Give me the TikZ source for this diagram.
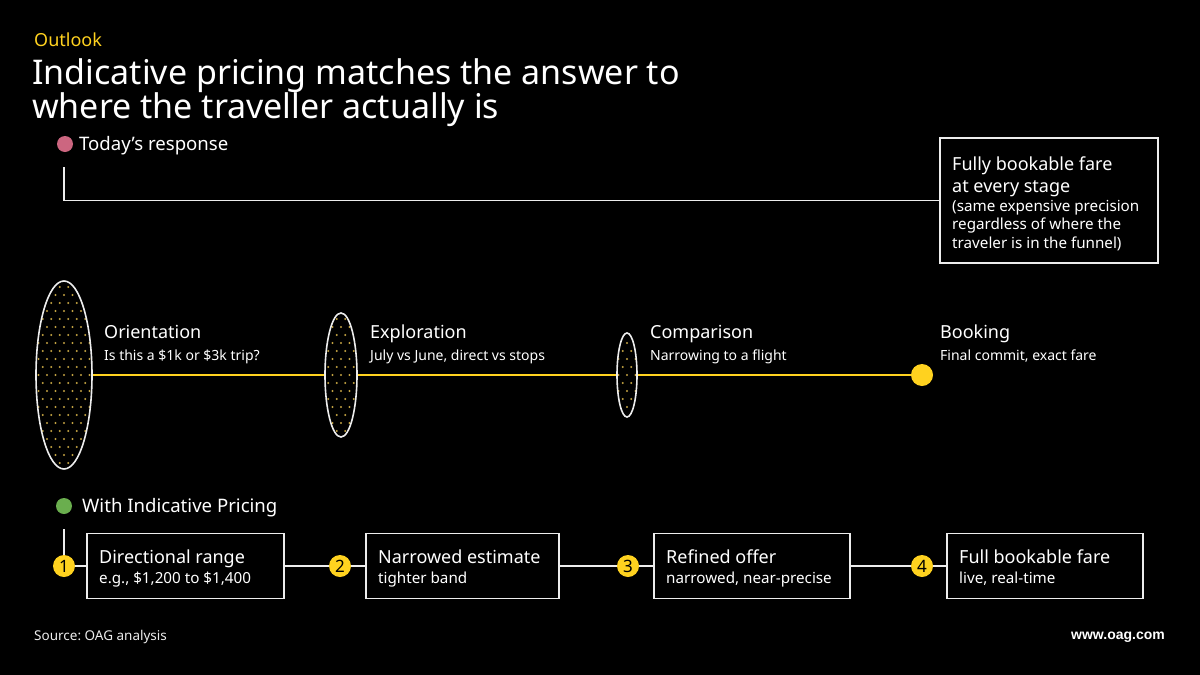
\documentclass[tikz,border=0pt]{standalone}
\usepackage{fontspec}
\setmainfont{Noto Sans}
\newfontfamily\webfont{Liberation Sans}
\frenchspacing
\usetikzlibrary{shapes.geometric}
\definecolor{oagyellow}{HTML}{FFD21F}
\definecolor{oagpink}{HTML}{CC6680}
\definecolor{oaggreen}{HTML}{6AAE4E}
\definecolor{oagline}{HTML}{EDEDED}
\definecolor{oagdot}{HTML}{C2A242}
\tikzset{
  txt/.style={anchor=base west, inner sep=0, text=white},
  bigl/.style={txt, font=\fontsize{18}{22}\selectfont},
  legl/.style={txt, font=\fontsize{18.6}{22}\selectfont},
  smalll/.style={txt, font=\fontsize{14}{16}\selectfont},
  boxsub/.style={txt, font=\fontsize{15.2}{17}\selectfont},
  wline/.style={draw=oagline, line width=1.6pt},
  yline/.style={draw=oagyellow, line width=1.8pt},
  stagebox/.style={draw=oagline, line width=1.6pt, rectangle, inner sep=0},
  oval/.style={draw=oagline, line width=1.6pt, ellipse, inner sep=0},
  num/.style={circle, fill=oagyellow, inner sep=0, minimum size=22pt, text=black, font=\fontsize{17}{17}\selectfont},
  legdot/.style={circle, inner sep=0, minimum size=16pt},
}
\newcommand{\ovaldots}[2]{% cx, cy
  \foreach \i in {-5,...,5}{\foreach \j in {-13,...,13}{%
    \fill[oagdot] ({#1+8.5*\i+4.25*mod(abs(\j),2)},{#2+8*\j}) circle (1.15);}}}
\begin{document}
\begin{tikzpicture}[x=1pt,y=-1pt]
\fill[black] (0,0) rectangle (1200,675);
\useasboundingbox (0,0) rectangle (1200,675);

% header
\node[txt, text=oagyellow, font=\fontsize{18}{20}\selectfont] (kicker) at (34,46) {Outlook};
\node[txt, font=\fontsize{34}{38}\selectfont] (title1) at (32,84) {Indicative pricing matches the answer to};
\node[txt, font=\fontsize{34}{38}\selectfont] (title2) at (32,118) {where the traveller actually is};

% today's response
\node[legdot, fill=oagpink] (pink) at (65,144) {};
\node[legl] (today) at (79,150) {Today’s response};
\coordinate (tstart) at (64,167);
\node[stagebox, minimum width=218pt, minimum height=125pt] (topbox) at (1049,200.5) {};
\draw[wline] (tstart) |- (topbox.west);
\node[bigl] (tb1) at (952,170) {Fully bookable fare};
\node[bigl] (tb2) at (952,192) {at every stage};
\node[boxsub] (tb3) at (952,211) {(same expensive precision};
\node[boxsub] (tb4) at (952,229) {regardless of where the};
\node[boxsub] (tb5) at (952,248) {traveler is in the funnel)};

% funnel ovals
\begin{scope}
  \clip (64,375) ellipse (28 and 94);
  \ovaldots{64}{375}
\end{scope}
\begin{scope}
  \clip (341,375) ellipse (16 and 62);
  \ovaldots{341}{375}
\end{scope}
\begin{scope}
  \clip (627,375) ellipse (10 and 42);
  \ovaldots{627}{375}
\end{scope}
\node[oval, minimum width=56pt, minimum height=188pt] (e1) at (64,375) {};
\node[oval, minimum width=32pt, minimum height=124pt] (e2) at (341,375) {};
\node[oval, minimum width=20pt, minimum height=84pt] (e3) at (627,375) {};
\node[circle, fill=oagyellow, inner sep=0, minimum size=22pt] (bk) at (922,375) {};
\draw[yline] (e1.east) -- (e2.west);
\draw[yline] (e2.east) -- (e3.west);
\draw[yline] (e3.east) -- (bk.west);

\node[bigl] (l1) at (104,338) {Orientation};
\node[smalll] (s1) at (104,360) {Is this a \$1k or \$3k trip?};
\node[bigl] (l2) at (370,338) {Exploration};
\node[smalll] (s2) at (370,360) {July vs June, direct vs stops};
\node[bigl] (l3) at (650,338) {Comparison};
\node[smalll] (s3) at (650,360) {Narrowing to a flight};
\node[bigl] (l4) at (940,338) {Booking};
\node[smalll] (s4) at (940,360) {Final commit, exact fare};

% with indicative pricing
\node[legdot, fill=oaggreen] (green) at (64,506) {};
\node[legl] (withip) at (82,512) {With Indicative Pricing};
\coordinate (gstart) at (64,529);

\node[num] (c1) at (64,566) {1};
\node[num] (c2) at (340,566) {2};
\node[num] (c3) at (628,566) {3};
\node[num] (c4) at (922,566) {4};
\node[stagebox, minimum width=197pt, minimum height=65pt] (b1) at (185.5,566) {};
\node[stagebox, minimum width=193pt, minimum height=65pt] (b2) at (462.5,566) {};
\node[stagebox, minimum width=196pt, minimum height=65pt] (b3) at (752,566) {};
\node[stagebox, minimum width=196pt, minimum height=65pt] (b4) at (1045,566) {};
\draw[wline] (gstart) -- (c1.north);
\draw[wline] (c1.east) -- (b1.west);
\draw[wline] (b1.east) -- (c2.west);
\draw[wline] (c2.east) -- (b2.west);
\draw[wline] (b2.east) -- (c3.west);
\draw[wline] (c3.east) -- (b3.west);
\draw[wline] (b3.east) -- (c4.west);
\draw[wline] (c4.east) -- (b4.west);

\node[bigl] (bt1) at (99,563) {Directional range};
\node[boxsub] (bs1) at (99,583) {e.g., \$1,200 to \$1,400};
\node[bigl] (bt2) at (378,563) {Narrowed estimate};
\node[boxsub] (bs2) at (378,583) {tighter band};
\node[bigl] (bt3) at (666,563) {Refined offer};
\node[boxsub] (bs3) at (666,583) {narrowed, near-precise};
\node[bigl] (bt4) at (959,563) {Full bookable fare};
\node[boxsub] (bs4) at (959,583) {live, real-time};

% footer
\node[txt, text=oagline, font=\fontsize{13.5}{15}\selectfont] (src) at (34,640) {Source: OAG analysis};
\node[anchor=base east, inner sep=0, text=white, font=\webfont\bfseries\fontsize{14}{15}\selectfont] (web) at (1165,639) {www.oag.com};
\end{tikzpicture}
\end{document}
